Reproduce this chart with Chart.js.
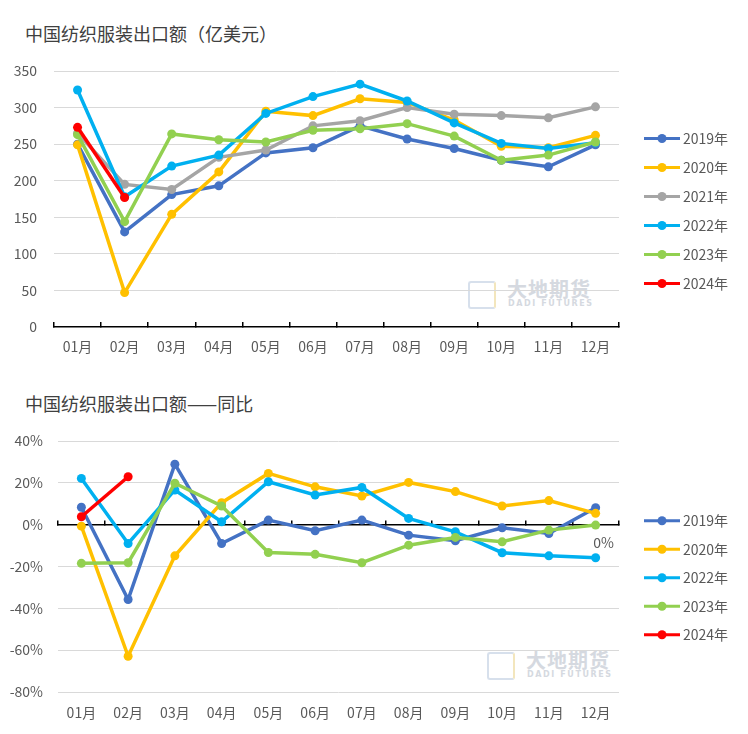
<!DOCTYPE html>
<html>
<head>
<meta charset="utf-8">
<script src="https://cdn.jsdelivr.net/npm/chart.js@4.4.1/dist/chart.umd.min.js"></script>
<style>
    body { margin: 0; background: #fff; width: 748px; height: 734px; position: relative; overflow: hidden; font-family: "Noto Sans CJK SC", sans-serif; }
    .title { position: absolute; left: 25px; font-size: 18px; line-height: 1; color: #404040; }
    .wm { position: absolute; width: 140px; height: 30px; }
    .wm .logo { position: absolute; left: 0; top: 1px; width: 24px; height: 24px; border: 2px solid #d7e0ec; border-right-color: #f3e6bd; border-radius: 3px; }
    .wm .cn { position: absolute; left: 39px; top: -1px; font-size: 20px; font-weight: bold; color: #d5d9e0; letter-spacing: 1px; line-height: 1; }
    .wm .en { position: absolute; left: 40px; top: 20px; font-size: 8px; font-weight: bold; color: #d5d9e0; letter-spacing: 1.6px; line-height: 1; font-family: "DejaVu Sans", sans-serif; }
    canvas { position: absolute; left: 0; }
</style>
</head>
<body>
<div class="title" style="top:24px">中国纺织服装出口额（亿美元）</div>
<div class="title" style="top:394px">中国纺织服装出口额——同比</div>
<div class="wm" style="left:468px;top:280px"><div class="logo"></div><div class="cn">大地期货</div><div class="en">DADI FUTURES</div></div>
<div class="wm" style="left:487px;top:651px"><div class="logo"></div><div class="cn">大地期货</div><div class="en">DADI FUTURES</div></div>
<canvas id="amountChart" width="748" height="370" style="top:0"></canvas>
<canvas id="yoyChart" width="748" height="364" style="top:370px"></canvas>

<script>
    'use strict';

    var FONT = '"Noto Sans CJK SC", "Noto Sans", sans-serif';
    var TEXT_COLOR = '#595959';

    // 月份
    var months = ['01月', '02月', '03月', '04月', '05月', '06月', '07月', '08月', '09月', '10月', '11月', '12月'];

    // 出口额（亿美元）
    var amount2019 = [250, 130, 181, 193, 238, 245, 275, 257, 244, 228, 219, 249];
    var amount2020 = [249, 47, 154, 212, 295, 289, 312, 307, 283, 247, 245, 262];
    var amount2021 = [265, 195, 188, 232, 242, 275, 282, 300, 291, 289, 286, 301];
    var amount2022 = [324, 178, 220, 235, 292, 315, 332, 309, 279, 251, 244, 252];
    var amount2023 = [263, 144, 264, 256, 253, 269, 271, 278, 261, 228, 235, 253];
    var amount2024 = [273, 177];

    // 同比（%）
    var yoy2019 = [8.3, -35.8, 28.9, -9.0, 2.2, -2.9, 2.2, -5.0, -7.7, -1.5, -4.2, 8.1];
    var yoy2020 = [-0.7, -62.9, -14.9, 10.5, 24.5, 18.1, 13.7, 20.2, 15.8, 8.9, 11.5, 5.4];
    var yoy2022 = [22.1, -9.0, 16.6, 1.4, 20.5, 14.2, 17.8, 3.0, -3.4, -13.4, -14.9, -15.8];
    var yoy2023 = [-18.5, -18.2, 19.8, 8.9, -13.3, -14.2, -18.2, -9.8, -6.1, -8.2, -2.6, -0.2];
    var yoy2024 = [3.8, 22.9];

    // 坐标轴刻度
    var amountAxis = [0, 350, 50];
    var yoyAxis = [-80, 40, 20];

    var yearColors = {
        '2019年': '#4472C4',
        '2020年': '#FFC000',
        '2021年': '#A5A5A5',
        '2022年': '#00B0F0',
        '2023年': '#92D050',
        '2024年': '#FF0000'
    };

    Chart.defaults.font.family = FONT;
    Chart.defaults.color = TEXT_COLOR;

    function makeDatasets(series) {
        // later years drawn on top, like the original
        return series.map(function (s, i) {
            var color = yearColors[s[0]];
            return {
                label: s[0],
                data: s[1],
                borderColor: color,
                backgroundColor: color,
                pointBackgroundColor: color,
                pointBorderWidth: 0,
                pointRadius: 4.5,
                borderWidth: 3.5,
                tension: 0,
                order: series.length - 1 - i
            };
        });
    }

    // legend: line with a dot, then the label
    var lineLegend = {
        id: 'lineLegend',
        afterDraw: function (chart, args, opts) {
            var ctx = chart.ctx;
            chart.data.datasets.forEach(function (ds, i) {
                var y = opts.top + i * opts.gap;
                ctx.save();
                ctx.strokeStyle = ds.borderColor;
                ctx.lineWidth = 3;
                ctx.beginPath();
                ctx.moveTo(opts.left, y);
                ctx.lineTo(opts.left + 36, y);
                ctx.stroke();
                ctx.fillStyle = ds.borderColor;
                ctx.beginPath();
                ctx.arc(opts.left + 18, y, 4.5, 0, Math.PI * 2);
                ctx.fill();
                ctx.fillStyle = TEXT_COLOR;
                ctx.font = '14px ' + FONT;
                ctx.textBaseline = 'middle';
                ctx.fillText(ds.label, opts.left + 39, y);
                ctx.restore();
            });
        }
    };

    // single data label on the last point of one series
    var lastLabel = {
        id: 'lastLabel',
        afterDatasetsDraw: function (chart, args, opts) {
            if (!opts.label) return;
            var idx = chart.data.datasets.findIndex(function (d) { return d.label === opts.label; });
            if (idx < 0) return;
            var meta = chart.getDatasetMeta(idx);
            var data = chart.data.datasets[idx].data;
            var pt = meta.data[data.length - 1];
            var ctx = chart.ctx;
            ctx.save();
            ctx.fillStyle = TEXT_COLOR;
            ctx.font = '14px ' + FONT;
            ctx.textAlign = 'center';
            ctx.textBaseline = 'middle';
            ctx.fillText(Math.round(data[data.length - 1]) + '%', pt.x + 8, pt.y + 18);
            ctx.restore();
        }
    };

    function hideZero(c) {
        return c.tick && c.tick.value === 0 ? 'rgba(0,0,0,0)' : '#d9d9d9';
    }

    // 出口额
    new Chart(document.getElementById('amountChart'), {
        type: 'line',
        data: {
            labels: months,
            datasets: makeDatasets([
                ['2019年', amount2019], ['2020年', amount2020], ['2021年', amount2021],
                ['2022年', amount2022], ['2023年', amount2023], ['2024年', amount2024]
            ])
        },
        options: {
            responsive: false,
            animation: false,
            devicePixelRatio: 1,
            layout: { padding: { top: 71, right: 129, left: 0, bottom: 0 } },
            plugins: {
                legend: { display: false },
                tooltip: { enabled: false },
                lineLegend: { left: 644, top: 138.5, gap: 29 }
            },
            scales: {
                x: {
                    offset: true,
                    grid: { offset: true, drawOnChartArea: false, tickLength: -5, color: '#000', lineWidth: 1.5 },
                    border: { display: true, color: '#000', width: 1.5 },
                    ticks: { color: TEXT_COLOR, font: { size: 14 }, padding: 16, maxRotation: 0, autoSkip: false },
                    afterFit: function (s) { s.height = 43; }
                },
                y: {
                    min: amountAxis[0],
                    max: amountAxis[1],
                    ticks: { stepSize: amountAxis[2], color: TEXT_COLOR, font: { size: 14 }, padding: 17 },
                    grid: { color: hideZero, drawTicks: false, lineWidth: 1 },
                    border: { display: false },
                    afterFit: function (s) { s.width = 54; }
                }
            }
        },
        plugins: [lineLegend]
    });

    // 同比
    new Chart(document.getElementById('yoyChart'), {
        type: 'line',
        data: {
            labels: months,
            datasets: makeDatasets([
                ['2019年', yoy2019], ['2020年', yoy2020], ['2022年', yoy2022],
                ['2023年', yoy2023], ['2024年', yoy2024]
            ])
        },
        options: {
            responsive: false,
            animation: false,
            devicePixelRatio: 1,
            layout: { padding: { top: 71, right: 129, left: 0, bottom: 0 } },
            plugins: {
                legend: { display: false },
                tooltip: { enabled: false },
                lineLegend: { left: 644, top: 150.7, gap: 28.5 },
                lastLabel: { label: '2023年' }
            },
            scales: {
                x: {
                    offset: true,
                    grid: { display: false },
                    border: { display: false },
                    ticks: { color: TEXT_COLOR, font: { size: 14 }, padding: 4, maxRotation: 0, autoSkip: false },
                    afterFit: function (s) { s.height = 42; }
                },
                x2: {
                    type: 'category',
                    labels: months,
                    position: { y: 0 },
                    offset: true,
                    grid: { offset: true, drawOnChartArea: false, tickLength: -5, color: '#000', lineWidth: 1.5 },
                    border: { display: true, color: '#000', width: 1.5 },
                    ticks: { display: false }
                },
                y: {
                    min: yoyAxis[0],
                    max: yoyAxis[1],
                    ticks: {
                        stepSize: yoyAxis[2], color: TEXT_COLOR, font: { size: 14 }, padding: 15,
                        callback: function (v) { return v + '%'; }
                    },
                    grid: { color: hideZero, drawTicks: false, lineWidth: 1 },
                    border: { display: false },
                    afterFit: function (s) { s.width = 58; }
                }
            }
        },
        plugins: [lineLegend, lastLabel]
    });
</script>
</body>
</html>
